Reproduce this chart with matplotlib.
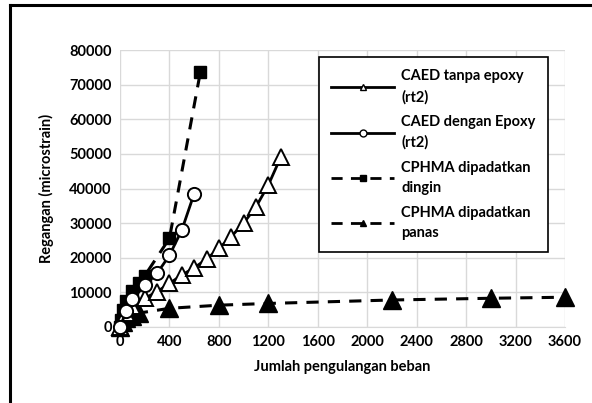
import matplotlib.pyplot as plt
from matplotlib.lines import Line2D

plt.rcParams['font.family'] = ['Lato', 'DejaVu Sans']
plt.rcParams['font.weight'] = 'bold'

# CAED tanpa epoxy (rt2)
x_tanpa = [0, 50, 100, 200, 300, 400, 500, 600, 700, 800, 900, 1000, 1100, 1200, 1300]
y_tanpa = [0, 4000, 6000, 8300, 10200, 12600, 15000, 17100, 19600, 22700, 26100, 30000, 34700, 41000, 49000]

# CAED dengan Epoxy (rt2)
x_epoxy = [0, 50, 100, 200, 300, 400, 500, 600]
y_epoxy = [0, 4500, 8000, 12000, 15500, 20700, 28000, 38500]

# CPHMA dipadatkan dingin
x_dingin = [0, 10, 25, 50, 100, 150, 200, 400, 650]
y_dingin = [0, 2000, 4900, 7600, 10400, 12800, 14800, 25600, 73600]

# CPHMA dipadatkan panas
x_panas = [0, 25, 50, 100, 150, 400, 800, 1200, 2200, 3000, 3600]
y_panas = [0, 1500, 2500, 3300, 4000, 5400, 6300, 6800, 7800, 8300, 8600]

labels = ['CAED tanpa epoxy\n(rt2)', 'CAED dengan Epoxy\n(rt2)',
          'CPHMA dipadatkan\ndingin', 'CPHMA dipadatkan\npanas']

fig = plt.figure(figsize=(5.92, 4.03), dpi=100)
ax = fig.add_axes([120 / 592, 1 - 327 / 403, 445 / 592, 277 / 403])

dash = (0, (4, 3))
ax.plot(x_tanpa, y_tanpa, color='black', lw=2, marker='^', ms=12,
        mfc='white', mec='black', mew=1.4, zorder=4, clip_on=False)
ax.plot(x_epoxy, y_epoxy, color='black', lw=2, marker='o', ms=9.5,
        mfc='white', mec='black', mew=1.4, zorder=4, clip_on=False)
ax.plot(x_dingin, y_dingin, color='black', lw=2.2, ls=dash, marker='s', ms=8,
        mfc='black', mec='black', zorder=3, clip_on=False)
ax.plot(x_panas, y_panas, color='black', lw=2.2, ls=dash, marker='^', ms=13,
        mfc='black', mec='black', zorder=3, clip_on=False)

ax.set_xlim(0, 3600)
ax.set_ylim(0, 80000)
ax.set_xticks(range(0, 3601, 400))
ax.set_yticks(range(0, 80001, 10000))
ax.grid(True, color='#d9d9d9', lw=1)
ax.set_axisbelow(True)
for s in ['top', 'right', 'left']:
    ax.spines[s].set_visible(False)
ax.spines['bottom'].set_color('#d9d9d9')
ax.tick_params(length=0, labelsize=10.5, pad=6)
for lab in ax.get_xticklabels() + ax.get_yticklabels():
    lab.set_fontweight('bold')
ax.set_xlabel('Jumlah pengulangan beban', fontsize=10.5, fontweight='bold', labelpad=8)
ax.set_ylabel('Regangan (microstrain)', fontsize=10.5, fontweight='bold', labelpad=11)

# legend with small markers like the original
handles = [
    Line2D([], [], color='black', lw=2, marker='^', ms=5, mfc='white', mec='black'),
    Line2D([], [], color='black', lw=2, marker='o', ms=5, mfc='white', mec='black'),
    Line2D([], [], color='black', lw=2, ls=dash, marker='s', ms=5, mfc='black'),
    Line2D([], [], color='black', lw=2, ls=dash, marker='^', ms=5, mfc='black'),
]
leg = ax.legend(handles, labels, loc='upper left', bbox_to_anchor=(199 / 445, 270 / 277),
                frameon=True, fancybox=False, edgecolor='black', framealpha=1,
                fontsize=10.5, handlelength=4.3, handletextpad=0.5,
                labelspacing=0.75, borderpad=0.85, borderaxespad=0)
leg.get_frame().set_linewidth(1.2)
for t in leg.get_texts():
    t.set_fontweight('bold')
    t.set_linespacing(1.55)

# outer chart border (left and top visible)
fig.add_artist(Line2D([9.5 / 592, 9.5 / 592], [0, 1 - 5 / 403], color='black', lw=2.2,
                      transform=fig.transFigure))
fig.add_artist(Line2D([9.5 / 592, 1], [1 - 5 / 403, 1 - 5 / 403], color='black', lw=2.2,
                      transform=fig.transFigure))

fig.savefig('out.png', dpi=100)
